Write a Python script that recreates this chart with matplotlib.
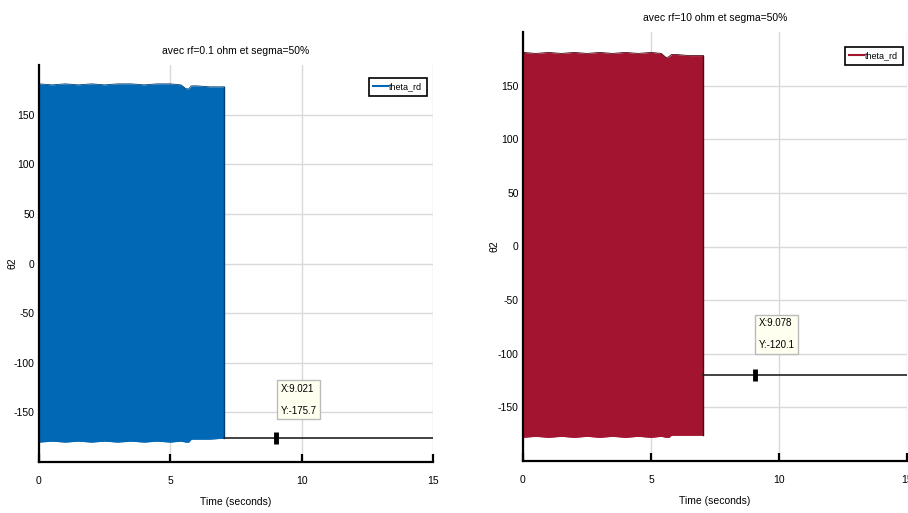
import matplotlib
matplotlib.use('Agg')
import matplotlib.pyplot as plt
import numpy as np

plt.rcParams['font.family'] = ['Liberation Sans Narrow', 'Liberation Sans', 'DejaVu Sans']
plt.rcParams['axes.unicode_minus'] = False

# envelope of the fast oscillating theta_rd signal
t_env = [0.0, 0.5, 1.0, 1.5, 2.0, 2.5, 3.0, 3.5, 4.0, 4.5, 5.0, 5.4, 5.6, 5.7, 5.8, 6.0, 6.5, 7.05]
upper_a = [181, 180, 181, 180, 181, 180, 181, 181, 180, 181, 181, 180, 176, 176, 179, 179, 178, 178]
lower_a = [-180, -179, -180, -179, -180, -179, -180, -179, -180, -179, -180, -179, -180, -180, -177, -177, -177, -176]
upper_b = [181, 180, 181, 180, 181, 180, 181, 180, 181, 180, 181, 180, 176, 177, 179, 179, 178, 178]
lower_b = [-178, -177, -178, -177, -178, -177, -178, -177, -178, -177, -178, -177, -178, -178, -176, -176, -176, -176]

# value after the signal settles
t_end = [7.05, 15.0]
settle_a = -175.7
settle_b = -120.1

tip_a = (9.021, -175.7)
tip_b = (9.078, -120.1)
tip_text_a = 'X:9.021\nY:-175.7'
tip_text_b = 'X:9.078\nY:-120.1'

titles = ['avec rf=0.1 ohm et segma=50%', 'avec rf=10 ohm et segma=50%']
colors = ['#0068B5', '#A2142F']
edges = ['#003f73', '#4a0a15']

yticks = [-150, -100, -50, 0, 50, 100, 150]
xticks = [0, 5, 10, 15]


def draw_panel(ax, upper, lower, settle, tip, tip_text, title, color, edge,
               leg_anchor, box_xy, ylab_x):
    ax.fill_between(t_env, lower, upper, color=color, lw=0, zorder=3)
    ax.plot(t_env, upper, color=edge, lw=0.6, zorder=3)
    ax.plot(t_env, lower, color=color, lw=0.6, zorder=3)
    ax.plot([t_env[-1], t_env[-1]], [lower[-1], upper[-1]], color=edge, lw=1.0, zorder=3)
    ax.plot(t_end, [settle, settle], color='#222222', lw=1.2, zorder=3)
    # legend proxy
    h, = ax.plot([], [], color=color, lw=1.5, label='theta_rd')
    # data tip
    ax.plot([tip[0]], [tip[1]], marker='|', color='black', markersize=9,
            markeredgewidth=3.5, zorder=5)
    ax.text(box_xy[0], box_xy[1], tip_text,
            fontsize=7, va='top', ha='left', linespacing=2.5, zorder=6,
            bbox=dict(boxstyle='square,pad=0.35', fc='#fffff0', ec='#bbbbbb', lw=1))

    ax.set_xlim(0, 15)
    ax.set_ylim(-200, 200)
    ax.set_xticks(xticks)
    ax.set_yticks(yticks)
    ax.grid(True, color='#d9d9d9', lw=1.0, zorder=0)
    ax.set_axisbelow(True)
    for s in ['top', 'right']:
        ax.spines[s].set_visible(False)
    for s in ['left', 'bottom']:
        ax.spines[s].set_linewidth(1.6)
        ax.spines[s].set_zorder(4)
    ax.tick_params(axis='x', direction='in', length=6, width=1.6, labelsize=7.5, pad=10)
    ax.tick_params(axis='y', direction='in', length=0, labelsize=7.5, pad=3)
    ax.set_xlabel('Time (seconds)', fontsize=7.5, labelpad=8)
    ax.set_ylabel('θ2', fontsize=7.5)
    ax.yaxis.set_label_coords(ylab_x, 0.5)
    ax.set_title(title, fontsize=7.5, pad=8)
    leg = ax.legend(handles=[h], loc='upper right', bbox_to_anchor=leg_anchor,
                    bbox_transform=ax.figure.transFigure, fontsize=6.5,
                    handlelength=1.6, handletextpad=0.2, borderpad=0.5,
                    borderaxespad=0, fancybox=False, framealpha=1)
    leg.get_frame().set_edgecolor('black')
    leg.get_frame().set_linewidth(1.2)


fig = plt.figure(figsize=(9.08, 5.13), dpi=100)
ax1 = fig.add_axes([39 / 908, 1 - 462 / 513, 394 / 908, 397 / 513])
ax2 = fig.add_axes([523 / 908, 1 - 461 / 513, 384 / 908, 429 / 513])

draw_panel(ax1, upper_a, lower_a, settle_a, tip_a, tip_text_a, titles[0], colors[0], edges[0],
           (427 / 908, 1 - 78 / 513), (9.2, -121), -0.055)
draw_panel(ax2, upper_b, lower_b, settle_b, tip_b, tip_text_b, titles[1], colors[1], edges[1],
           (903 / 908, 1 - 47 / 513), (9.2, -67), -0.06)

fig.savefig('out.png', dpi=100)
